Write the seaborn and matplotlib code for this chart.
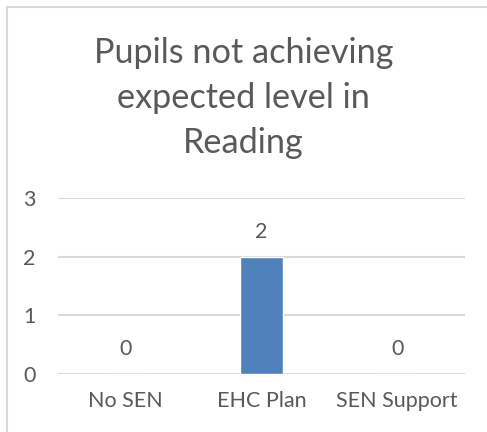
import matplotlib
matplotlib.use("Agg")
import matplotlib.pyplot as plt
import seaborn as sns
import pandas as pd
from matplotlib.lines import Line2D

categories = ["No SEN", "EHC Plan", "SEN Support"]
values = [0, 2, 0]
title = "Pupils not achieving\nexpected level in\nReading"

sns.set_theme(style="white")
plt.rcParams['font.family'] = ['Lato', 'DejaVu Sans']

TXT = "#595959"
GRID = "#D9D9D9"
BAR = "#4F81BD"

df = pd.DataFrame({"cat": categories, "val": values})

fig = plt.figure(figsize=(4.87, 4.32), dpi=100)
ax = fig.add_axes([58/487, 1-374/432, (465-58)/487, (374-198)/432])

sns.barplot(data=df, x="cat", y="val", hue="cat", palette=[BAR]*3,
            legend=False, width=0.32, ax=ax, saturation=1)

ax.set_ylim(0, 3)
ax.set_yticks([0, 1, 2, 3])
ax.set_xlim(-0.5, 2.5)
ax.yaxis.grid(True, color=GRID, linewidth=1.5)
ax.set_axisbelow(True)
for s in ax.spines.values():
    s.set_visible(False)
ax.set_xlabel("")
ax.set_ylabel("")
ax.tick_params(axis='both', length=0, labelsize=15.5, colors=TXT)
ax.tick_params(axis='y', pad=16)
ax.tick_params(axis='x', pad=12)

for i, v in enumerate(values):
    ax.annotate(str(v), (i, v), xytext=(0, 18), textcoords='offset points',
                ha='center', va='center', fontsize=15.5, color=TXT)

fig.text(0.5, 1-98/432, title, ha='center', va='center', fontsize=24.7,
         color=TXT, linespacing=1.5)

fig.add_artist(Line2D([7/487, 7/487], [0, 1-7/432], color=GRID, linewidth=1.5,
                      transform=fig.transFigure))
fig.add_artist(Line2D([7/487, 1], [1-7/432, 1-7/432], color=GRID, linewidth=1.5,
                      transform=fig.transFigure))

fig.savefig("out.png", dpi=100, facecolor="white")
